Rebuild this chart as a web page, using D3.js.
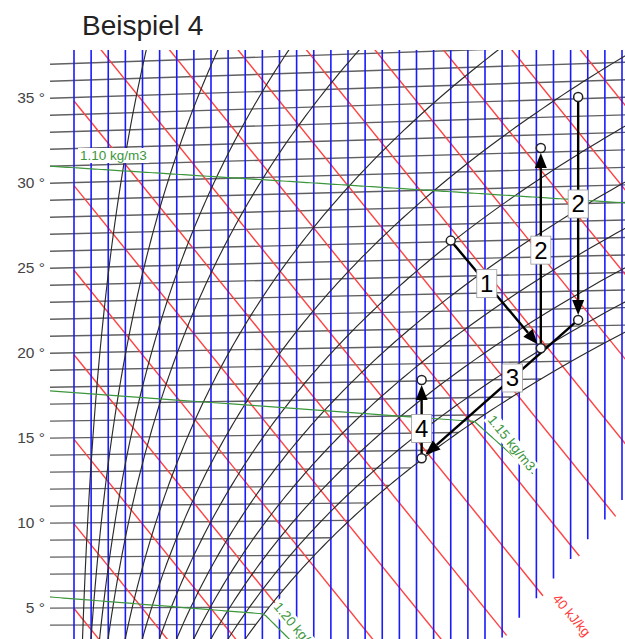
<!DOCTYPE html>
<html>
<head>
<meta charset="utf-8">
<script src="https://cdn.jsdelivr.net/npm/d3@7/dist/d3.min.js"></script>
<style>
  body { margin: 0; background: #fff; }
</style>
</head>
<body>
<script>
// h,x-Diagramm (Mollier) bei 960 hPa

const P = 96000; // Pa

// Isothermen (°C)
const isotherms = [3, 4, 5, 6, 7, 8, 9, 10, 11, 12, 13, 14, 15, 16, 17, 18, 19, 20,
  21, 22, 23, 24, 25, 26, 27, 28, 29, 30, 31, 32, 33, 34, 35, 36, 37];
const tempTicks = [5, 10, 15, 20, 25, 30, 35];
// Wassergehalt x (g/kg)
const humidities = [0, 0.5, 1, 1.5, 2, 2.5, 3, 3.5, 4, 4.5, 5, 5.5, 6, 6.5, 7, 7.5, 8,
  8.5, 9, 9.5, 10, 10.5, 11, 11.5, 12, 12.5, 13, 13.5, 14, 14.5, 15, 15.5, 16];
// Enthalpie h (kJ/kg)
const enthalpies = [5, 10, 15, 20, 25, 30, 35, 40, 45, 50, 55, 60, 65, 70, 75, 80];
// relative Feuchte
const relHumidities = [0.05, 0.1, 0.15, 0.2, 0.3, 0.4, 0.5, 0.6, 0.7, 0.8, 0.9, 1.0];
// Dichte (kg/m3)
const densities = [1.10, 1.15, 1.20];
const densityFogEnd = [null, 13.4, 7.2];

// Nebelgebiet: Ende der x- und h-Linien  [x g/kg, t]
const blueEdge = [[13, 4.42], [16, 11.35]];
const redEdge = [[13.66, 5.65], [15.8, 10.35]];

// Zustandspunkte
const pointNames = ["A", "B", "C", "D", "E", "F", "G"];
const pointT = [26.06, 19.77, 31.24, 34.10, 21.35, 13.55, 18.06];
const pointX = [11.0, 13.63, 13.63, 14.72, 14.72, 10.15, 10.15];

// Zustandsänderungen
const processFrom = ["A", "B", "D", "E", "F"];
const processTo = ["B", "C", "E", "F", "G"];
const processLabel = ["1", "2", "2", "3", "4"];
const processLabelAt = [0.4, 0.49, 0.48, 0.42, 0.38];

const W = 625, H = 639;

const xScale = d3.scaleLinear().domain([0, 16]).range([74, 622]);
const yScale = d3.scaleLinear().domain([35, 5]).range([97.5, 608]);

// Psychrometrie
const ps = t => 611.2 * Math.exp(17.62 * t / (243.12 + t));
const xSat = (t, phi = 1) => 622 * phi * ps(t) / (P - phi * ps(t)); // g/kg
const vEq = (t, xg) => t * (1.006 + 0.00186 * xg) / 1.006;
const pt = (xg, ve) => [xScale(xg), yScale(ve)];
const line = d3.line();

const svg = d3.select("body").append("svg")
  .attr("width", W)
  .attr("height", H)
  .attr("font-family", "'Liberation Sans', Arial, sans-serif");

svg.append("defs").append("clipPath").attr("id", "plot")
  .append("rect").attr("x", 50).attr("y", 50).attr("width", W - 50).attr("height", H);

const g = svg.append("g").attr("clip-path", "url(#plot)");

// Isothermen
g.append("g")
  .attr("fill", "none")
  .attr("stroke", "#606060")
  .attr("stroke-width", 1.4)
  .selectAll("path")
  .data(isotherms)
  .join("path")
  .attr("d", t => {
    const xe = Math.min(xSat(t), 18);
    return line([pt(-0.7, vEq(t, -0.7)), pt(xe, vEq(t, xe))]);
  });

// Enthalpie
const edgeAt = (edge, xg) => edge[0][1] + (xg - edge[0][0]) * (edge[1][1] - edge[0][1]) / (edge[1][0] - edge[0][0]);
g.append("g")
  .attr("fill", "none")
  .attr("stroke", "#ff4040")
  .attr("stroke-width", 1.4)
  .selectAll("path")
  .data(enthalpies)
  .join("path")
  .attr("d", h => {
    const s = (redEdge[1][1] - redEdge[0][1]) / (redEdge[1][0] - redEdge[0][0]);
    const xe = (h / 1.006 - redEdge[0][1] + s * redEdge[0][0]) / (s + 2.501 / 1.006);
    const ve = x => (h - 2.501 * x) / 1.006;
    return line([pt(0, ve(0)), pt(xe, ve(xe))]);
  });

// Wassergehalt
g.append("g")
  .attr("fill", "none")
  .attr("stroke", "#1a1aff")
  .attr("stroke-width", 1.6)
  .selectAll("path")
  .data(humidities)
  .join("path")
  .attr("d", xg => line([pt(xg, 38.5), pt(xg, Math.max(edgeAt(blueEdge, xg), 0))]));

// relative Feuchte
g.append("g")
  .attr("fill", "none")
  .attr("stroke", "#2a2a2a")
  .attr("stroke-width", 1.15)
  .selectAll("path")
  .data(relHumidities)
  .join("path")
  .attr("d", phi => line(d3.range(0, 42, 0.25).map(t => {
    const xg = xSat(t, phi);
    return pt(xg, vEq(t, xg));
  })));

// Dichte
function densityPath(rho, fogEnd) {
  const pts = [];
  let xb = null;
  for (let xg = -0.7; xg <= 18; xg += 0.1) {
    const x = xg / 1000;
    const t = P * (1 + x) / (287.06 * rho * (1 + 1.608 * x)) - 273.15;
    if (xg > xSat(t)) { xb = xg; break; }
    pts.push(pt(xg, vEq(t, xg)));
  }
  if (xb !== null && fogEnd) {
    for (let xg = xb; xg <= fogEnd; xg += 0.05) {
      const x = xg / 1000;
      let lo = -10, hi = 50;
      for (let k = 0; k < 50; k++) {
        const m = (lo + hi) / 2;
        const r = (P - ps(m)) / (287.06 * (m + 273.15)) * (1 + x);
        if (r > rho) lo = m; else hi = m;
      }
      const t = (lo + hi) / 2;
      const xs = xSat(t) / 1000;
      const h = 1.006 * t + xs * (2501 + 1.86 * t) + (x - xs) * 4.19 * t;
      pts.push(pt(xg, (h - 2501 * x) / 1.006));
    }
  }
  return line(pts);
}
g.append("g")
  .attr("fill", "none")
  .attr("stroke", "#3c963c")
  .attr("stroke-width", 1.2)
  .selectAll("path")
  .data(densities)
  .join("path")
  .attr("d", (rho, i) => densityPath(rho, densityFogEnd[i]));

// Beschriftungen mit weißem Hintergrund
function boxedText(parent, x, y, angle, txt, color, size) {
  const lg = parent.append("g").attr("transform", `translate(${x},${y}) rotate(${angle})`);
  const rect = lg.append("rect").attr("fill", "#fff");
  const tx = lg.append("text").attr("fill", color).attr("font-size", size).text(txt);
  const b = tx.node().getBBox();
  rect.attr("x", b.x - 2).attr("y", b.y).attr("width", b.width + 4).attr("height", b.height);
  return lg;
}
boxedText(g, 80, 160, 0, "1.10 kg/m3", "#3c963c", 13.5);
boxedText(g, 487, 420, 51, "1.15 kg/m3", "#3c963c", 13.5);
boxedText(g, 273, 607, 50, "1.20 kg/m3", "#3c963c", 13.5);
boxedText(g, 552, 599, 50, "40 kJ/kg", "#ff3b3b", 13.5);

// Temperaturachse
svg.append("g")
  .attr("font-size", 15.5)
  .attr("fill", "#444")
  .attr("text-anchor", "end")
  .selectAll("text")
  .data(tempTicks)
  .join("text")
  .attr("x", 45)
  .attr("y", t => yScale(t) + 5)
  .text(t => t + " °");

// Titel
svg.append("text")
  .attr("x", 82)
  .attr("y", 35)
  .attr("font-size", 28)
  .attr("fill", "#222")
  .text("Beispiel 4");

// Zustandsänderungen
const P2 = {};
pointNames.forEach((n, i) => P2[n] = pt(pointX[i], vEq(pointT[i], pointX[i])));

const proc = svg.append("g");
processFrom.forEach((f, i) => {
  const a = P2[f], b = P2[processTo[i]];
  const dx = b[0] - a[0], dy = b[1] - a[1];
  const len = Math.hypot(dx, dy);
  const ux = dx / len, uy = dy / len;
  const tip = [b[0] - ux * 5, b[1] - uy * 5];
  const base = [tip[0] - ux * 15, tip[1] - uy * 15];
  proc.append("path")
    .attr("d", line([a, base]))
    .attr("stroke", "#000")
    .attr("stroke-width", 2.4)
    .attr("fill", "none");
  proc.append("path")
    .attr("d", line([tip, [base[0] - uy * 6, base[1] + ux * 6], [base[0] + uy * 6, base[1] - ux * 6]]) + "Z")
    .attr("fill", "#000");
  const lx = a[0] + dx * processLabelAt[i], ly = a[1] + dy * processLabelAt[i];
  proc.append("rect")
    .attr("x", lx - 10).attr("y", ly - 14)
    .attr("width", 20).attr("height", 28)
    .attr("fill", "#fff")
    .attr("stroke", "#999")
    .attr("stroke-width", 0.8);
  proc.append("text")
    .attr("x", lx).attr("y", ly + 8.5)
    .attr("text-anchor", "middle")
    .attr("font-size", 24)
    .attr("fill", "#000")
    .text(processLabel[i]);
});

proc.selectAll("circle")
  .data(pointNames)
  .join("circle")
  .attr("cx", n => P2[n][0])
  .attr("cy", n => P2[n][1])
  .attr("r", 4.5)
  .attr("fill", "#fff")
  .attr("stroke", "#222")
  .attr("stroke-width", 1.5);
</script>
</body>
</html>
